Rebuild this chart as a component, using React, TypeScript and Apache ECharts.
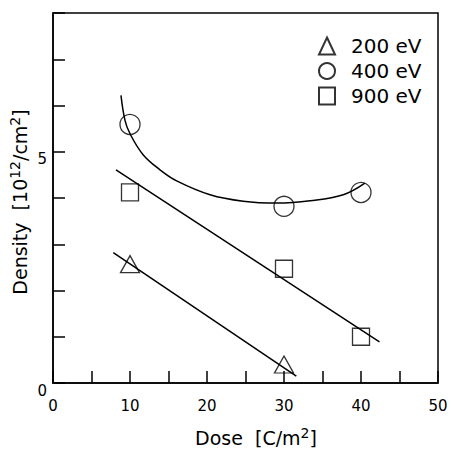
import React, { useEffect, useRef } from 'react';
import * as echarts from 'echarts';

const FONT = "'DejaVu Sans', Verdana, sans-serif";

// Measured data (Dose in C/m^2, Density in 10^12/cm^2)
const dose200 = [10, 30];
const density200 = [2.57, 0.4];
const dose400 = [10, 30, 40];
const density400 = [5.59, 3.82, 4.12];
const dose900 = [10, 30, 40];
const density900 = [4.12, 2.47, 1.0];

// Fitted lines / curve
const fit200X = [7.83, 31.6];
const fit200Y = [2.82, 0.15];
const fit900X = [8.18, 42.4];
const fit900Y = [4.61, 0.89];
const curve400X = [8.83, 9.35, 10, 11.73, 13.9, 16.06, 20.4, 24.7, 29.05, 33.4, 37.7, 40.5];
const curve400Y = [6.22, 5.68, 5.39, 4.93, 4.61, 4.37, 4.07, 3.93, 3.89, 3.94, 4.07, 4.32];

const seriesNames = ['200 eV', '400 eV', '900 eV'];
const xLabelValues = [0, 10, 20, 30, 40, 50];
const yLabelValues = [0, 5];

const zip = (xs: number[], ys: number[]) => xs.map((x, i) => [x, ys[i]]);

export default function App() {
  const ref = useRef<HTMLDivElement>(null);
  useEffect(() => {
    if (!ref.current) return;
    const chart = echarts.init(ref.current, undefined, { renderer: 'svg' });
    const markerStyle = { color: 'transparent', borderColor: '#000', borderWidth: 1.3 };
    const lineStyle = { color: '#000', width: 1.5 };
    const richA = { fontSize: 19, fontFamily: FONT, color: '#000', lineHeight: 24 };
    const richS = { fontSize: 14, fontFamily: FONT, color: '#000', lineHeight: 11, verticalAlign: 'top' };
    chart.setOption({
      animation: false,
      backgroundColor: '#fff',
      grid: {
        left: 53, right: 13, top: 13, bottom: 66,
        show: true, borderColor: '#000', borderWidth: 1.5, backgroundColor: 'transparent',
      },
      legend: {
        data: seriesNames,
        orient: 'vertical',
        left: 318,
        top: 36,
        padding: 0,
        itemWidth: 16,
        itemHeight: 17,
        itemGap: 5,
        textStyle: { fontSize: 20, fontFamily: FONT, color: '#000', lineHeight: 17, padding: [0, 0, 0, 11] },
      },
      xAxis: {
        type: 'value', min: 0, max: 50, interval: 5,
        axisLine: { lineStyle: { color: '#000', width: 1.5 } },
        axisTick: { inside: true, length: 12, lineStyle: { color: '#000', width: 1.5 } },
        splitLine: { show: false },
        axisLabel: {
          margin: 15, fontSize: 15, fontFamily: FONT, color: '#000',
          formatter: (v: number) => (xLabelValues.includes(v) ? String(v) : ''),
        },
      },
      yAxis: {
        type: 'value', min: 0, max: 8, interval: 1,
        axisLine: { lineStyle: { color: '#000', width: 1.5 } },
        axisTick: { inside: true, length: 12, lineStyle: { color: '#000', width: 1.5 } },
        splitLine: { show: false },
        axisLabel: {
          margin: 6, fontSize: 15, fontFamily: FONT, color: '#000', verticalAlign: 'top',
          formatter: (v: number) => (yLabelValues.includes(v) ? String(v) : ''),
        },
      },
      graphic: [
        {
          type: 'text', x: 256, y: 438,
          style: {
            text: '{a|Dose  [C/m}{s|2}{a|]}',
            rich: { a: richA, s: richS },
            align: 'center', verticalAlign: 'middle',
          },
        },
        {
          type: 'text', x: 20, y: 202, rotation: Math.PI / 2,
          style: {
            text: '{a|Density  [10}{s|12}{a|/cm}{s|2}{a|]}',
            rich: { a: richA, s: richS },
            align: 'center', verticalAlign: 'middle',
          },
        },
      ],
      series: [
        {
          name: seriesNames[0], type: 'scatter', symbol: 'triangle', symbolSize: [19, 17],
          itemStyle: markerStyle, data: zip(dose200, density200), z: 3,
        },
        {
          name: seriesNames[1], type: 'scatter', symbol: 'circle', symbolSize: 20,
          itemStyle: markerStyle, data: zip(dose400, density400), z: 3,
        },
        {
          name: seriesNames[2], type: 'scatter', symbol: 'rect', symbolSize: 17,
          itemStyle: markerStyle, data: zip(dose900, density900), z: 3,
        },
        {
          name: 'fit200', type: 'line', showSymbol: false, symbol: 'none',
          lineStyle, data: zip(fit200X, fit200Y), z: 2,
        },
        {
          name: 'fit900', type: 'line', showSymbol: false, symbol: 'none',
          lineStyle, data: zip(fit900X, fit900Y), z: 2,
        },
        {
          name: 'fit400', type: 'line', showSymbol: false, symbol: 'none', smooth: 0.4,
          lineStyle, data: zip(curve400X, curve400Y), z: 2,
        },
      ],
    });
    return () => chart.dispose();
  }, []);
  return (
    <div
      ref={ref}
      style={{ position: 'fixed', left: 0, top: 0, width: 451, height: 449, background: '#fff' }}
    />
  );
}
